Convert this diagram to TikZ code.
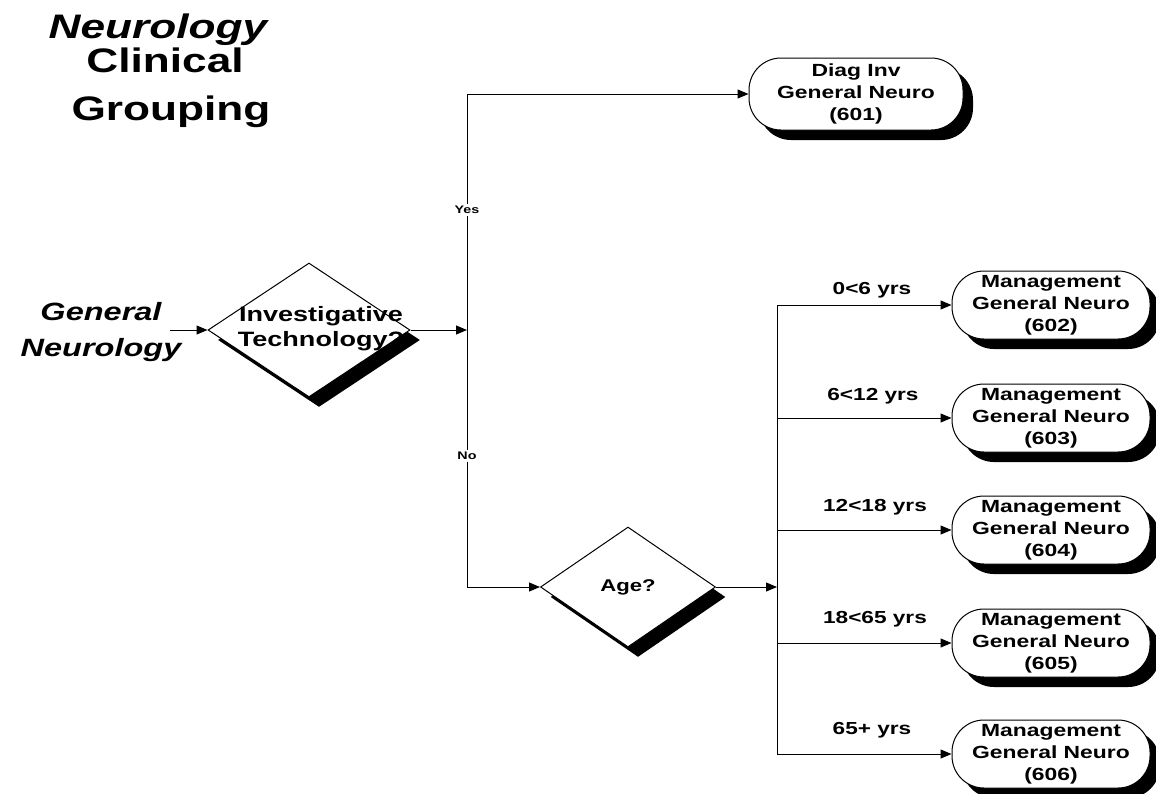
\documentclass[tikz,border=0pt]{standalone}
\usepackage{fontspec}
\setmainfont{Liberation Sans}[FakeStretch=1.3]
\usetikzlibrary{shapes}
\usetikzlibrary{shapes.geometric}
\usetikzlibrary{shadows}
\usetikzlibrary{arrows.meta}
\usetikzlibrary{positioning}

\begin{document}
\begin{tikzpicture}[x=0.5pt,y=-0.5pt,
            line width=0.5pt,
            >={Triangle[length=5.5pt,width=4.5pt]},
            shade/.style = {drop shadow={shadow xshift=5pt,shadow yshift=-5pt,
                fill=black,opacity=1}},
            decision/.style = {draw,diamond,fill=white,inner sep=0pt,shade},
            outcome/.style = {draw,rectangle,rounded corners=16pt,fill=white,
                minimum width=99pt,minimum height=34pt,inner sep=1pt,align=center,
                font=\fontsize{8.8}{11}\selectfont\bfseries,shade},
            ttl/.style = {anchor=base,font=\fontsize{17}{18}\selectfont\bfseries},
            lbl/.style = {font=\fontsize{8.7}{10}\selectfont\bfseries},
            yn/.style = {fill=white,inner sep=1pt,font=\fontsize{5.5}{6}\selectfont\bfseries}]
            \useasboundingbox (0,0) rectangle (1156,793);
            % title
            \node[ttl,font=\fontsize{17}{18}\selectfont\bfseries\itshape] (t1) at (158,38) {Neurology};
            \node[ttl] (t2) at (165,72) {Clinical};
            \node[ttl] (t3) at (171,120) {Grouping};
            % start and decisions
            \node[align=center,font=\fontsize{12.5}{18}\selectfont\bfseries\itshape] (gen) at (101,332)
                {General\\Neurology};
            \coordinate (start) at (170,330);
            \node[decision,minimum width=101pt,minimum height=67pt] (inv) at (309,330) {};
            \node[align=center,font=\fontsize{10.4}{12.5}\selectfont\bfseries] (invtxt) at (321,329)
                {Investigative\\Technology?};
            \node[decision,minimum width=87.5pt,minimum height=60pt,
                font=\fontsize{8.5}{10}\selectfont\bfseries] (age) at (628,587) {Age?};
            \coordinate (split) at (467,330);
            \coordinate (fork) at (777,587);
            % outcomes
            \node[outcome,minimum width=107pt,minimum height=36pt] (b601) at (856,94)
                {Diag Inv\\General Neuro\\(601)};
            \node[outcome] (b602) at (1051,305) {Management\\General Neuro\\(602)};
            \node[outcome] (b603) at (1051,418) {Management\\General Neuro\\(603)};
            \node[outcome] (b604) at (1051,530) {Management\\General Neuro\\(604)};
            \node[outcome] (b605) at (1051,643) {Management\\General Neuro\\(605)};
            \node[outcome] (b606) at (1051,754) {Management\\General Neuro\\(606)};
            % age bands
            \node[lbl] (a602) at (872,290) {0<6 yrs};
            \node[lbl] (a603) at (873,396) {6<12 yrs};
            \node[lbl] (a604) at (875,507) {12<18 yrs};
            \node[lbl] (a605) at (875,619) {18<65 yrs};
            \node[lbl] (a606) at (872,730) {65+ yrs};
            % connectors
            \draw[->] (start) -- (inv.west);
            \draw[->] (inv.east) -- (split);
            \draw[->] (split) |- node[yn,pos=0.254] {Yes} (b601.west);
            \draw[->] (split) |- node[yn,pos=0.245] {No} (age.west);
            \draw[->] (age.east) -- (fork);
            \draw[->] (fork) |- (b602.west);
            \draw[->] (fork) |- (b603.west);
            \draw[->] (fork) |- (b604.west);
            \draw[->] (fork) |- (b605.west);
            \draw[->] (fork) |- (b606.west);
        \end{tikzpicture}
\end{document}
